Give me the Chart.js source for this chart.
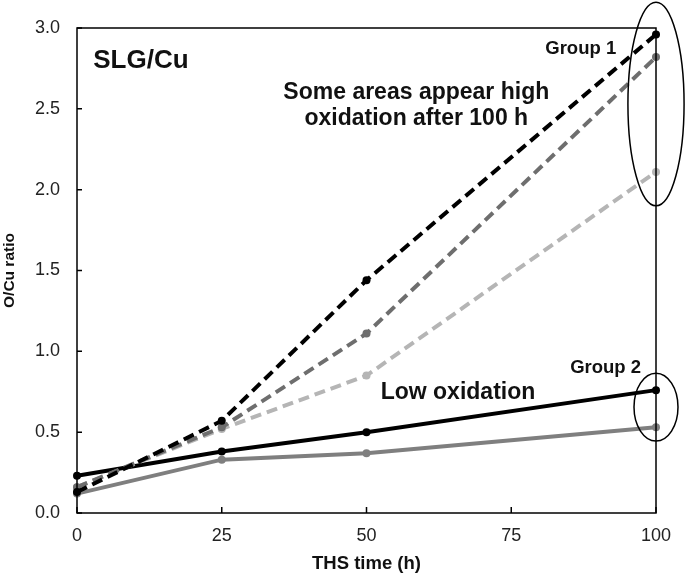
<!DOCTYPE html>
<html>
<head>
<meta charset="utf-8">
<script src="https://cdn.jsdelivr.net/npm/chart.js@4"></script>
<style>
  html, body { margin: 0; padding: 0; background: #fff; }
  #wrap { width: 685px; height: 575px; position: relative; }
</style>
</head>
<body>
<div id="wrap"><canvas id="chart"></canvas></div>
<script>
// THS time (h)
const timeH = [0, 25, 50, 100];

// Group 1 (dashed) - O/Cu ratio
const g1Black = [0.13, 0.57, 1.44, 2.96];
const g1Dark  = [0.16, 0.53, 1.11, 2.82];
const g1Light = [0.16, 0.52, 0.85, 2.11];

// Group 2 (solid)
const g2Black = [0.23, 0.38, 0.50, 0.76];
const g2Gray  = [0.12, 0.33, 0.37, 0.53];

const xTicks = [0, 25, 50, 75, 100];
const yTicks = [0, 0.5, 1, 1.5, 2, 2.5, 3];

const FONT = "'Liberation Sans', Arial, sans-serif";

const pts = arr => timeH.map((t, i) => ({ x: t, y: arr[i] }));

function series(label, arr, color, dashed) {
    return {
        label, data: pts(arr),
        borderColor: color, backgroundColor: color,
        borderWidth: 4, borderDash: dashed ? [11, 6] : [],
        pointRadius: 4, pointHoverRadius: 4, pointBorderWidth: 0,
        tension: 0, clip: false
    };
}

// frame, inward ticks, circles and notes
const decor = {
    id: 'decor',
    afterDraw(chart) {
        const { ctx, chartArea: a, scales: { x, y } } = chart;
        ctx.save();
        ctx.strokeStyle = '#000';
        ctx.lineWidth = 1.5;
        ctx.strokeRect(a.left, a.top, a.right - a.left, a.bottom - a.top);

        ctx.beginPath();
        xTicks.forEach(v => {
            const px = x.getPixelForValue(v);
            ctx.moveTo(px, a.bottom); ctx.lineTo(px, a.bottom - 6);
        });
        yTicks.forEach(v => {
            const py = y.getPixelForValue(v);
            ctx.moveTo(a.left, py); ctx.lineTo(a.left + 5, py);
        });
        ctx.stroke();

        // group ellipses
        const ellipse = (cx, cy, rx, ry) => {
            const px = x.getPixelForValue(cx), py = y.getPixelForValue(cy);
            const w = x.getPixelForValue(cx + rx) - px;
            const h = py - y.getPixelForValue(cy + ry);
            ctx.beginPath();
            ctx.ellipse(px, py, w, h, 0, 0, Math.PI * 2);
            ctx.lineWidth = 1.5;
            ctx.stroke();
        };
        ellipse(100, 2.53, 4.85, 0.63);
        ellipse(100, 0.655, 3.8, 0.21);

        const text = (str, vx, vy, size, align) => {
            ctx.font = 'bold ' + size + 'px ' + FONT;
            ctx.fillStyle = '#111';
            ctx.textAlign = align || 'center';
            ctx.textBaseline = 'middle';
            ctx.fillText(str, x.getPixelForValue(vx), y.getPixelForValue(vy));
        };
        text('SLG/Cu', 2.8, 2.80, 26, 'left');
        text('Some areas appear high', 58.6, 2.60, 23);
        text('oxidation after 100 h', 58.6, 2.44, 23);
        text('Low oxidation', 65.8, 0.745, 23);
        text('Group 1', 87, 2.87, 18.5);
        text('Group 2', 91.3, 0.895, 18.5);
        ctx.restore();
    }
};

new Chart(document.getElementById('chart').getContext('2d'), {
    type: 'line',
    data: {
        datasets: [
            series('Group 1 a', g1Black, '#000000', true),
            series('Group 1 b', g1Dark, '#6e6e6e', true),
            series('Group 1 c', g1Light, '#b5b5b5', true),
            series('Group 2 b', g2Gray, '#7f7f7f', false),
            series('Group 2 a', g2Black, '#000000', false)
        ]
    },
    options: {
        responsive: true, maintainAspectRatio: false,
        animation: false,
        layout: { padding: { top: 28, right: 29, left: 0, bottom: 0 } },
        plugins: { legend: { display: false }, tooltip: { enabled: false } },
        scales: {
            x: {
                type: 'linear', min: 0, max: 100,
                afterBuildTicks: s => { s.ticks = xTicks.map(v => ({ value: v })); },
                afterFit: s => { s.height = 62; },
                grid: { display: false, drawTicks: false },
                border: { display: false },
                ticks: { padding: 12, color: '#222', font: { family: FONT, size: 18 }, maxRotation: 0 },
                title: { display: true, text: 'THS time (h)', color: '#111', font: { family: FONT, size: 18.5, weight: 'bold' }, padding: { top: 0, bottom: 0 } }
            },
            y: {
                min: 0, max: 3,
                afterBuildTicks: s => { s.ticks = yTicks.map(v => ({ value: v })); },
                afterFit: s => { s.width = 77; },
                grid: { display: false, drawTicks: false },
                border: { display: false },
                ticks: { padding: 17, color: '#222', font: { family: FONT, size: 18 }, callback: v => v.toFixed(1) },
                title: { display: true, text: 'O/Cu ratio', color: '#111', font: { family: FONT, size: 15.5, weight: 'bold' }, padding: { top: 0, bottom: 0 } }
            }
        }
    },
    plugins: [decor]
});
</script>
</body>
</html>
